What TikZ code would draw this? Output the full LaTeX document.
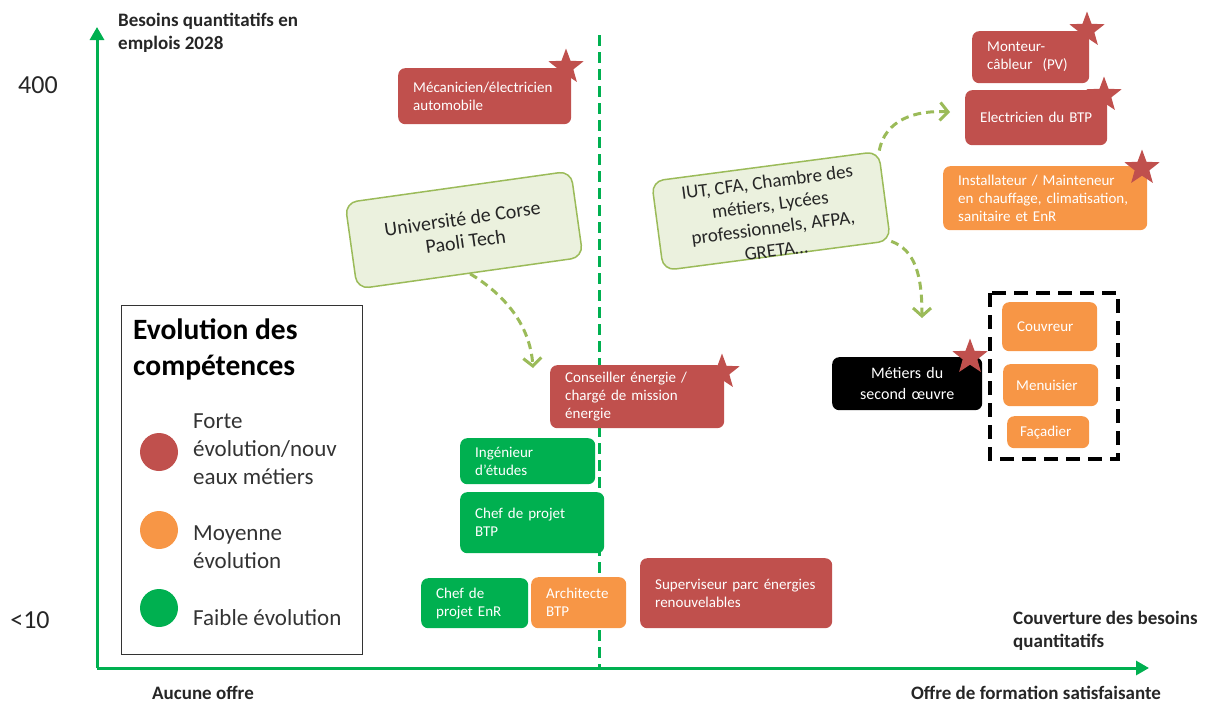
\documentclass[tikz,border=0pt]{standalone}
\usepackage{fontspec}
\setmainfont{Carlito}
\usetikzlibrary{arrows.meta,shapes.geometric}
\definecolor{forte}{HTML}{C0504D}
\definecolor{moyenne}{HTML}{F79646}
\definecolor{faible}{HTML}{00B050}
\definecolor{ecolefill}{HTML}{EBF1DE}
\definecolor{ecoledraw}{HTML}{9BBB59}
\hyphenpenalty=10000
\exhyphenpenalty=10000

\begin{document}
\begin{tikzpicture}[
        x=1pt, y=-1pt,
        axe/.style={draw=faible, line width=3pt, -{Triangle[length=13pt,width=14pt]}},
        metier/.style={rounded corners=7pt, anchor=north west, text=white, align=left, inner xsep=15pt, inner ysep=0pt, font=\fontsize{15}{18}\selectfont},
        fortebox/.style={metier, fill=forte},
        moyennebox/.style={metier, fill=moyenne},
        faiblebox/.style={metier, fill=faible},
        etoile/.style={star, star points=5, star point ratio=2.4, fill=forte, minimum size=37pt, inner sep=0pt},
        ecole/.style={draw=ecoledraw, fill=ecolefill, line width=1.5pt, rounded corners=12pt},
        ecoletext/.style={text=black!85, align=center},
        lien/.style={draw=ecoledraw, line width=3pt, dash pattern=on 8pt off 5pt, -{Straight Barb[length=8pt,width=18pt]}},
        legende/.style={anchor=west, align=left, inner sep=0pt, font=\fontsize{23}{28}\selectfont, text=black!80},
        pastille/.style={circle, minimum size=38pt, inner sep=0pt},
        titre/.style={font=\bfseries\fontsize{19}{23}\selectfont, align=left, inner sep=0pt, text=black!85},
    ]
    \useasboundingbox (0,0) rectangle (1220,707);

    \coordinate (origine) at (97,668);
    \coordinate (haut) at (97,27);
    \coordinate (droite) at (1149,668);
    \coordinate (milieuhaut) at (599,35);
    \coordinate (milieubas) at (599,668);
    \draw[faible, line width=3pt, dash pattern=on 11pt off 6pt] (milieuhaut) -- (milieubas);
    \draw[axe] (origine) -- (haut);
    \draw[axe] (origine) -- (droite);

    \node[titre, anchor=north west] (besoins) at (118,13) {Besoins quantitatifs en\\emplois 2028};
    \node[font=\fontsize{26}{30}\selectfont, text=black!85] (max) at (38,85) {400};
    \node[font=\fontsize{26}{30}\selectfont, text=black!85] (min) at (30,620) {<10};
    \node[titre] (aucune) at (203,693) {Aucune offre};
    \node[titre] (satisf) at (1036,693) {Offre de formation satisfaisante};
    \node[titre, anchor=north west] (couverture) at (1013,611) {Couverture des besoins\\quantitatifs};

    % legende
    \draw[line width=1pt, black!80] (121,305) rectangle (362,654);
    \node[legende, font=\bfseries\fontsize{29.5}{36}\selectfont, text=black] (legtitre) at (133,349) {Evolution des\\compétences};
    \node[pastille, fill=forte] (pforte) at (159,452) {};
    \node[legende] (tforte) at (193,449) {Forte\\évolution/nouv\\eaux métiers};
    \node[pastille, fill=moyenne] (pmoyenne) at (159,530) {};
    \node[legende] (tmoyenne) at (193,547) {Moyenne\\évolution};
    \node[pastille, fill=faible] (pfaible) at (159,608) {};
    \node[legende] (tfaible) at (193,618) {Faible évolution};

    % metiers
    \node[fortebox, text width=143pt, minimum height=56pt] (mecanicien) at (398,68) {Mécanicien/électricien\\automobile};
    \node[fortebox, text width=87pt, minimum height=52pt] (monteur) at (972,31) {Monteur-\\câbleur~~(PV)};
    \node[fortebox, text width=112pt, minimum height=55pt] (electricien) at (965,90) {Electricien~du~BTP};
    \node[moyennebox, text width=174pt, minimum height=64pt] (installateur) at (943,166) {Installateur~/ Mainteneur\\en~chauffage, climatisation,\\sanitaire et~EnR};
    \node[fortebox, text width=144pt, minimum height=63pt] (conseiller) at (550,365) {Conseiller~énergie~/\\chargé de~mission\\énergie};
    \node[faiblebox, text width=105pt, minimum height=46pt] (ingenieur) at (460,438) {Ingénieur\\d’études};
    \node[faiblebox, text width=114pt, minimum height=61pt] (chefbtp) at (460,492) {Chef de~projet\\BTP};
    \node[faiblebox, text width=77pt, minimum height=50pt] (chefenr) at (421,578) {Chef~de\\projet~EnR};
    \node[moyennebox, text width=65pt, minimum height=51pt] (architecte) at (531,577) {Architecte\\BTP};
    \node[fortebox, text width=162pt, minimum height=70pt] (superviseur) at (640,558) {Superviseur~parc~énergies\\renouvelables};
    \node[metier, fill=black, align=center, text width=120pt, minimum height=53pt, font=\fontsize{16}{21}\selectfont] (second) at (832,357) {Métiers du\\second~œuvre};
    \draw[line width=3.5pt, dash pattern=on 14pt off 8pt] (990,293) rectangle (1118,459);
    \node[moyennebox, text width=65pt, minimum height=49pt] (couvreur) at (1002,302) {Couvreur};
    \node[moyennebox, text width=69pt, minimum height=42pt, inner xsep=13pt] (menuisier) at (1003,364) {Menuisier};
    \node[moyennebox, text width=56pt, minimum height=32pt, inner xsep=13pt] (facadier) at (1007,416) {Façadier};

    \node[etoile] (e1) at (566,67) {};
    \node[etoile] (e2) at (1087,30) {};
    \node[etoile] (e3) at (1104,95) {};
    \node[etoile] (e4) at (1142,168) {};
    \node[etoile] (e5) at (722,372) {};
    \node[etoile] (e6) at (970,357) {};

    % formations
    \node[ecole, ecoletext, rotate=8, minimum width=228pt, minimum height=87pt, font=\fontsize{20}{23}\selectfont] (universite) at (464,230) {Université de Corse\\Paoli Tech};
    \node[ecole, rotate=7.5, minimum width=229pt, minimum height=90pt] (iut) at (771,211) {};
    \node[ecoletext, rotate=7.5, yshift=-5pt, font=\fontsize{19}{23}\selectfont] (iuttexte) at (iut.center) {IUT, CFA, Chambre des\\métiers, Lycées\\professionnels, AFPA,\\GRETA…};

    \coordinate (versconseil) at (533,368);
    \coordinate (versbtp) at (950,112);
    \coordinate (verssecond) at (922,318);
    \draw[lien] (universite.south) .. controls (505,295) and (530,325) .. (versconseil);
    \draw[lien] (iut.north east) .. controls (885,120) and (915,110) .. (versbtp);
    \draw[lien] (iut.south east) .. controls (915,250) and (922,275) .. (verssecond);

\end{tikzpicture}
\end{document}
